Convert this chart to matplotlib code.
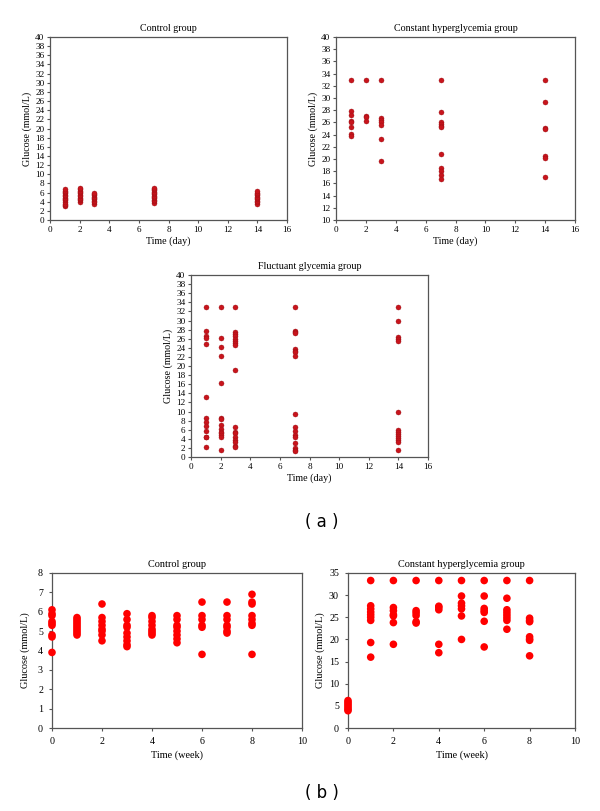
import matplotlib
matplotlib.use("Agg")
import matplotlib.pyplot as plt

plt.rcParams['font.family'] = ['Liberation Serif', 'DejaVu Serif']

# (a) 日単位のデータ
days = [1, 2, 3, 7, 14]
ctrl_day = [
    [3.0, 3.3, 3.6, 4.0, 4.3, 4.6, 4.9, 5.2, 5.5, 5.8, 6.1, 6.4, 6.8],
    [4.0, 4.3, 4.6, 4.9, 5.2, 5.5, 5.8, 6.1, 6.4, 6.7, 7.0],
    [3.6, 3.9, 4.2, 4.5, 4.8, 5.1, 5.4, 5.7, 6.0],
    [3.8, 4.1, 4.4, 4.7, 5.0, 5.3, 5.6, 5.9, 6.2, 6.5, 6.8, 7.0],
    [3.6, 3.9, 4.2, 4.5, 4.8, 5.1, 5.4, 5.7, 6.0, 6.4],
]
const_day = [
    [33.0, 27.8, 27.2, 26.2, 26.0, 25.3, 24.1, 23.8],
    [33.0, 27.0, 26.9, 26.3],
    [33.0, 26.8, 26.4, 26.1, 25.6, 23.2, 19.7],
    [33.0, 27.7, 26.0, 25.7, 25.4, 25.2, 20.8, 18.6, 18.1, 17.3, 16.8],
    [33.0, 29.3, 25.1, 24.9, 20.5, 20.1, 17.0],
]
fluct_day = [
    [33.0, 27.8, 26.6, 26.2, 24.8, 13.2, 8.6, 7.6, 6.9, 5.7, 4.5, 4.4, 2.3],
    [33.0, 26.2, 24.2, 22.3, 16.3, 8.6, 8.4, 7.0, 6.1, 5.6, 5.2, 4.8, 4.5, 1.6],
    [33.0, 27.4, 27.0, 26.5, 26.0, 25.5, 25.0, 24.6, 19.1,
     6.6, 5.6, 5.3, 4.3, 3.8, 3.2, 2.5, 2.3],
    [33.0, 27.8, 27.5, 27.2, 23.8, 23.4, 23.1, 22.2, 9.4,
     6.7, 5.7, 4.8, 4.4, 3.0, 2.0, 1.6, 1.4],
    [33.0, 29.9, 26.3, 26.0, 25.6, 9.8, 6.0, 5.5, 5.0, 4.6, 4.2, 3.8, 3.2, 1.5],
]

# (b) 週単位のデータ
weeks = [0, 1, 2, 3, 4, 5, 6, 7, 8]
ctrl_week = [
    [6.1, 5.9, 5.8, 5.5, 5.4, 5.3, 4.8, 4.7, 3.9],
    [5.7, 5.6, 5.5, 5.4, 5.3, 5.2, 5.1, 5.0, 4.9, 4.8],
    [6.4, 5.7, 5.5, 5.3, 5.1, 5.0, 4.8, 4.5],
    [5.9, 5.6, 5.3, 5.2, 4.9, 4.7, 4.5, 4.3, 4.2],
    [5.8, 5.7, 5.5, 5.3, 5.1, 5.0, 4.9, 4.8],
    [5.8, 5.6, 5.3, 5.2, 5.0, 4.8, 4.6, 4.4],
    [6.5, 5.8, 5.6, 5.3, 5.2, 3.8],
    [6.5, 5.8, 5.6, 5.3, 5.2, 5.0, 4.9],
    [6.9, 6.5, 6.4, 5.8, 5.6, 5.4, 5.3, 3.8],
]
const_week = [
    [6.2, 5.8, 5.4, 5.0, 4.6, 4.2, 3.9],
    [33.3, 27.6, 26.9, 26.2, 25.6, 25.0, 24.3, 19.3, 16.0],
    [33.3, 27.2, 26.5, 25.6, 25.3, 23.8, 18.9],
    [33.3, 26.5, 26.0, 25.4, 24.0, 23.7],
    [33.3, 27.5, 27.2, 26.7, 18.9, 17.0],
    [33.3, 29.8, 28.2, 27.6, 26.9, 25.3, 20.0],
    [33.3, 29.8, 27.0, 26.5, 26.1, 24.1, 18.3],
    [33.3, 29.3, 26.7, 26.1, 25.5, 24.9, 24.3, 22.3],
    [33.3, 24.8, 24.3, 24.0, 20.6, 20.1, 19.8, 16.3],
]

W, H = 600, 811
fig = plt.figure(figsize=(6, 8.11), dpi=100)


def make_ax(x0, y0, x1, y1):
    # ピクセル座標 (左上原点) から axes を作る
    return fig.add_axes([x0 / W, 1 - y1 / H, (x1 - x0) / W, (y1 - y0) / H])


def style(ax, fs, pad=1.5):
    for s in ax.spines.values():
        s.set_color('#555555')
        s.set_linewidth(0.9)
    ax.tick_params(direction='out', length=2.5, width=0.8, color='#555555',
                   labelsize=fs, pad=pad)


def scatter_groups(ax, xs, groups, color, size, edge):
    for x, vals in zip(xs, groups):
        ax.scatter([x] * len(vals), vals, s=size, color=color,
                   edgecolors=edge, linewidths=0.3, zorder=3, clip_on=False)


dark = '#c8141c'
bright = '#ff0000'

# (a) 上段
panels_a = [
    ((50, 37, 287, 220), ctrl_day, 'Control group', 0),
    ((336, 37, 575, 220), const_day, 'Constant hyperglycemia group', 10),
    ((191, 275, 428, 457), fluct_day, 'Fluctuant glycemia group', 0),
]
for (box, data, title, ymin) in panels_a:
    ax = make_ax(*box)
    scatter_groups(ax, days, data, dark, 13, '#9a0f14')
    ax.set_xlim(0, 16)
    ax.set_ylim(ymin, 40)
    ax.set_xticks(range(0, 17, 2))
    ax.set_yticks(range(ymin, 41, 2))
    style(ax, 6.6)
    ax.set_title(title, fontsize=7.2, pad=4)
    ax.set_ylabel('Glucose (mmol/L)', fontsize=7.2, labelpad=2)
    ax.set_xlabel('Time (day)', fontsize=7.2, labelpad=2)

# (b) 下段
ax4 = make_ax(52, 573, 302, 728)
scatter_groups(ax4, weeks, ctrl_week, bright, 30, 'none')
ax4.set_xlim(0, 10)
ax4.set_ylim(0, 8)
ax4.set_xticks(range(0, 11, 2))
ax4.set_yticks(range(0, 9))
style(ax4, 7.2, pad=4)
ax4.set_title('Control group', fontsize=7.4, pad=4)
ax4.set_ylabel('Glucose (mmol/L)', fontsize=7.4, labelpad=6)
ax4.set_xlabel('Time (week)', fontsize=7.4, labelpad=3)

ax5 = make_ax(348, 573, 575, 728)
scatter_groups(ax5, weeks, const_week, bright, 30, 'none')
ax5.set_xlim(0, 10)
ax5.set_ylim(0, 35)
ax5.set_xticks(range(0, 11, 2))
ax5.set_yticks(range(0, 36, 5))
style(ax5, 7.2, pad=4)
ax5.set_title('Constant hyperglycemia group', fontsize=7.4, pad=4)
ax5.set_ylabel('Glucose (mmol/L)', fontsize=7.4, labelpad=3)
ax5.set_xlabel('Time (week)', fontsize=7.4, labelpad=3)

fig.text(322 / W, 1 - 522 / H, '( a )', ha='center', va='center',
         fontsize=12, family='DejaVu Sans')
fig.text(322 / W, 1 - 793 / H, '( b )', ha='center', va='center',
         fontsize=12, family='DejaVu Sans')

fig.savefig('out.png', dpi=100)
